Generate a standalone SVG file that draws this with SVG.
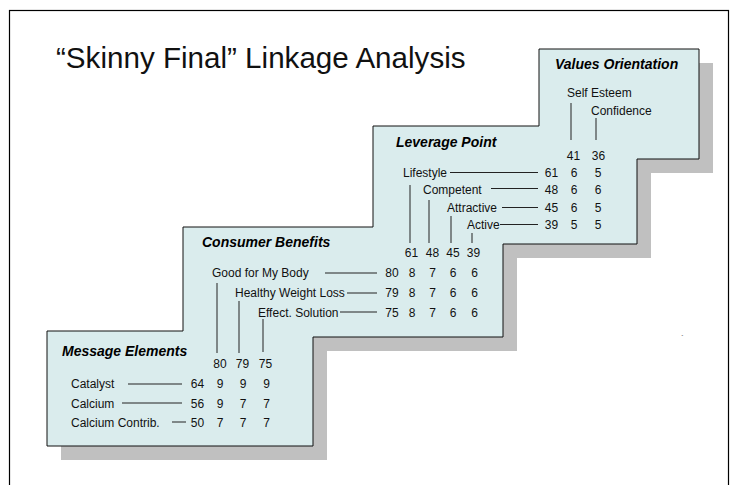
<svg xmlns="http://www.w3.org/2000/svg" width="731" height="485" viewBox="0 0 731 485">
<style>
.t{font-family:"Liberation Sans",Arial,sans-serif;fill:#111}
.h{font-family:"Liberation Sans",Arial,sans-serif;font-size:14px;font-weight:bold;font-style:italic;fill:#000}
.l{font-size:12px}
.n{font-size:12px;text-anchor:middle}
.c line{stroke:#222;stroke-width:1}
</style>
<rect x="9.5" y="10.5" width="719" height="500" fill="#fff" stroke="#000" stroke-width="1.2"/>
<text class="t" x="56" y="68" font-size="29.6">“Skinny Final” Linkage Analysis</text>
<g id="panel">
<polygon points="553,63 713,63 713,173 651,173 651,258 517,258 517,351 327,351 327,460 61,460 61,345 197,345 197,241 387,241 387,140 553,140" fill="#c0c0c0"/>
<polygon points="539,49 699,49 699,159 637,159 637,244 503,244 503,337 313,337 313,446 47,446 47,331 183,331 183,227 373,227 373,126 539,126" fill="#daeced" stroke="#111" stroke-width="1"/>
</g>
<g id="values-orientation">
<text class="h" x="555" y="69">Values Orientation</text>
<text class="t l" x="567" y="97">Self Esteem</text>
<text class="t l" x="591" y="115">Confidence</text>
<text class="t n" x="573.5" y="160">41</text>
<text class="t n" x="598.5" y="160">36</text>
</g>
<g id="leverage-point">
<text class="h" x="396" y="147">Leverage Point</text>
<text class="t l" x="403" y="177">Lifestyle</text>
<text class="t l" x="423" y="194">Competent</text>
<text class="t l" x="447" y="212">Attractive</text>
<text class="t l" x="467" y="229">Active</text>
<g class="t n">
<text x="551.5" y="177">61</text><text x="574" y="177">6</text><text x="598" y="177">5</text>
<text x="551.5" y="194">48</text><text x="574" y="194">6</text><text x="598" y="194">6</text>
<text x="551.5" y="212">45</text><text x="574" y="212">6</text><text x="598" y="212">5</text>
<text x="551.5" y="229">39</text><text x="574" y="229">5</text><text x="598" y="229">5</text>
<text x="411.5" y="257">61</text><text x="432.5" y="257">48</text><text x="453" y="257">45</text><text x="473.5" y="257">39</text>
</g>
</g>
<g id="consumer-benefits">
<text class="h" x="202" y="247">Consumer Benefits</text>
<text class="t l" x="212" y="277">Good for My Body</text>
<text class="t l" x="235" y="297">Healthy Weight Loss</text>
<text class="t l" x="258" y="317">Effect. Solution</text>
<g class="t n">
<text x="392" y="277">80</text><text x="412" y="277">8</text><text x="432.5" y="277">7</text><text x="453" y="277">6</text><text x="474.5" y="277">6</text>
<text x="392" y="297">79</text><text x="412" y="297">8</text><text x="432.5" y="297">7</text><text x="453" y="297">6</text><text x="474.5" y="297">6</text>
<text x="392" y="317">75</text><text x="412" y="317">8</text><text x="432.5" y="317">7</text><text x="453" y="317">6</text><text x="474.5" y="317">6</text>
<text x="220" y="368">80</text><text x="242.5" y="368">79</text><text x="265.5" y="368">75</text>
</g>
</g>
<g id="message-elements">
<text class="h" x="62" y="356">Message Elements</text>
<text class="t l" x="71" y="388">Catalyst</text>
<text class="t l" x="71" y="407.5">Calcium</text>
<text class="t l" x="71" y="427">Calcium Contrib.</text>
<g class="t n">
<text x="197.5" y="388">64</text><text x="220" y="388">9</text><text x="243" y="388">9</text><text x="266.5" y="388">9</text>
<text x="197.5" y="407.5">56</text><text x="220" y="407.5">9</text><text x="243" y="407.5">7</text><text x="266.5" y="407.5">7</text>
<text x="197.5" y="427">50</text><text x="220" y="427">7</text><text x="243" y="427">7</text><text x="266.5" y="427">7</text>
</g>
</g>
<g id="connectors" class="c">
<line x1="571" y1="103" x2="571" y2="140"/>
<line x1="596" y1="118" x2="596" y2="140"/>
<line x1="450" y1="172.5" x2="538" y2="172.5"/>
<line x1="491" y1="188.5" x2="538" y2="188.5"/>
<line x1="502" y1="207.5" x2="538" y2="207.5"/>
<line x1="500" y1="224.5" x2="538" y2="224.5"/>
<line x1="410" y1="185" x2="410" y2="243"/>
<line x1="429" y1="200" x2="429" y2="243"/>
<line x1="451" y1="216" x2="451" y2="243"/>
<line x1="472" y1="233" x2="472" y2="243"/>
<line x1="325" y1="273" x2="377" y2="273"/>
<line x1="347" y1="293" x2="377" y2="293"/>
<line x1="340" y1="312" x2="377" y2="312"/>
<line x1="217" y1="283" x2="217" y2="353"/>
<line x1="239" y1="301" x2="239" y2="353"/>
<line x1="263" y1="319" x2="263" y2="352"/>
<line x1="128" y1="384" x2="182" y2="384"/>
<line x1="122" y1="403" x2="182" y2="403"/>
<line x1="172" y1="422" x2="186" y2="422"/>
</g>
<text class="t" x="681" y="340" font-size="8">`</text>
</svg>
